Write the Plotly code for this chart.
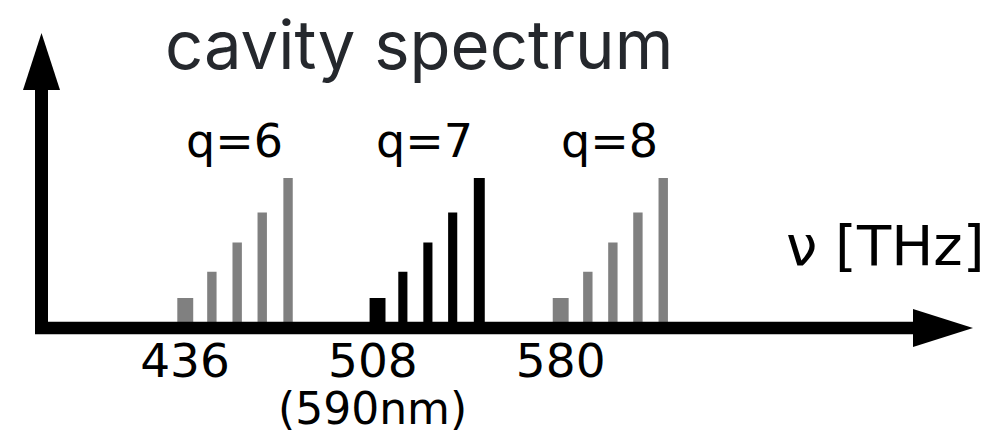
import plotly.graph_objects as go

# ---- data ----
groups = ["q=6", "q=7", "q=8"]
freq_q6 = [436.1, 446.3, 456.0, 465.6, 475.5]
freq_q7 = [509.8, 519.5, 529.1, 538.6, 548.8]
freq_q8 = [580.0, 590.4, 600.0, 609.6, 619.3]
intensity = [0.20, 0.375, 0.57, 0.77, 1.0]
tick_vals = [436, 508, 580]
tick_labels = ["436", "508", "580"]
wavelength_note = "(590nm)"
title_text = "cavity spectrum"
axis_label = "ν [THz]"

W, H = 989, 433
B = 104                     # bottom margin (tick labels live there)
HP = H - B                  # plot-area height in px
PX_PER_THZ = 2.609
X0_PX, X0_V = 185.0, 436.0  # pixel <-> THz anchor
Y0_PX, PX_PER_UNIT = 328.0, 150.0

def vx(px):
    return X0_V + (px - X0_PX) / PX_PER_THZ

def px_x(px):
    return px / W

def px_y(py):
    return (HP - py) / HP

fig = go.Figure()
colors = {"q=6": "#808080", "q=7": "#000000", "q=8": "#808080"}
series = {"q=6": freq_q6, "q=7": freq_q7, "q=8": freq_q8}
for g in groups:
    f = series[g]
    widths = [6.1, 3.6, 3.6, 3.6, 3.6] if g != "q=7" else [6.1, 3.5, 3.5, 3.5, 4.2]
    fig.add_trace(go.Bar(x=f, y=intensity, width=widths, name=g,
                         marker=dict(color=colors[g], line=dict(width=0)),
                         showlegend=False, hoverinfo="skip"))
    fig.add_annotation(x=f[2], y=px_y(141), xref="x", yref="paper", text=g,
                       showarrow=False, xanchor="center", yanchor="middle", xshift=-3,
                       font=dict(family="DejaVu Sans", size=46, color="black"))

# axes drawn as thick arrows
fig.add_shape(type="line", xref="paper", yref="paper",
              x0=px_x(35), x1=px_x(915), y0=px_y(328), y1=px_y(328),
              line=dict(color="black", width=12.5))
fig.add_shape(type="line", xref="paper", yref="paper",
              x0=px_x(41.5), x1=px_x(41.5), y0=px_y(334), y1=px_y(88),
              line=dict(color="black", width=13))
fig.add_shape(type="path", xref="paper", yref="paper",
              path=f"M {px_x(913)} {px_y(309)} L {px_x(973)} {px_y(328)} L {px_x(913)} {px_y(347)} Z",
              fillcolor="black", line=dict(width=0))
fig.add_shape(type="path", xref="paper", yref="paper",
              path=f"M {px_x(23)} {px_y(90)} L {px_x(41.5)} {px_y(33)} L {px_x(60)} {px_y(90)} Z",
              fillcolor="black", line=dict(width=0))

fig.add_annotation(x=px_x(419), y=px_y(44), xref="paper", yref="paper",
                   text=title_text, showarrow=False, xanchor="center", yanchor="middle",
                   font=dict(family="Inter", size=67, color="#25282d"))
fig.add_annotation(x=px_x(885), y=px_y(246), xref="paper", yref="paper",
                   text=axis_label, showarrow=False, xanchor="center", yanchor="middle",
                   font=dict(family="DejaVu Sans", size=56, color="black"))
fig.add_annotation(x=508, y=px_y(408), xref="x", yref="paper",
                   text=wavelength_note, showarrow=False, xanchor="center", yanchor="middle",
                   font=dict(family="DejaVu Sans", size=44, color="black"))

fig.update_layout(
    width=W, height=H, margin=dict(l=0, r=0, t=0, b=B),
    paper_bgcolor="white", plot_bgcolor="white",
    xaxis=dict(range=[vx(0), vx(W)], showgrid=False, zeroline=False, showline=False,
               tickvals=tick_vals, ticktext=tick_labels, ticks="",
               tickfont=dict(family="DejaVu Sans", size=47, color="black")),
    yaxis=dict(range=[-(HP - Y0_PX) / PX_PER_UNIT, Y0_PX / PX_PER_UNIT],
               visible=False, showgrid=False, zeroline=False),
    barmode="overlay",
)
fig.write_html("out.html", config={"displayModeBar": False},
               post_script="document.body.style.margin='0px';")
